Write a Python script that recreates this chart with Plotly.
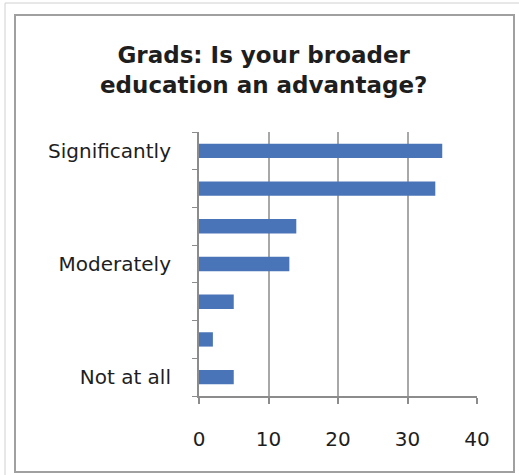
import plotly.graph_objects as go

categories = [7, 6, 5, 4, 3, 2, 1]
values = [35, 34, 14, 13, 5, 2, 5]
tick_positions = [7, 4, 1]
tick_labels = ["Significantly", "Moderately", "Not at all"]
x_ticks = [0, 10, 20, 30, 40]

W, H = 519, 475
L, R, T, B = 199, 42, 132, 79
pw, ph = W - L - R, H - T - B

def px(x):
    return (x - L) / pw

def py(y):
    return (H - B - y) / ph

fig = go.Figure(go.Bar(
    x=values, y=categories, orientation="h",
    marker=dict(color="#4a74b8", line=dict(width=0)),
    width=0.38,
))

fig.update_layout(
    width=W, height=H,
    margin=dict(l=L, r=R, t=T, b=B),
    paper_bgcolor="white", plot_bgcolor="white",
    showlegend=False,
    font=dict(family="DejaVu Sans", color="#1e1e1e"),
    annotations=[dict(
        text="<b>Grads: Is your broader<br>education an advantage?</b>",
        xref="paper", yref="paper", x=px(263), y=py(70),
        xanchor="center", yanchor="middle", showarrow=False,
        font=dict(size=23, family="DejaVu Sans", color="#1e1e1e"),
    )],
    shapes=[
        dict(type="rect", xref="paper", yref="paper",
             x0=px(15), x1=px(514), y0=py(472), y1=py(15),
             line=dict(color="#a0a0a0", width=2), layer="below"),
        dict(type="line", xref="paper", yref="paper",
             x0=px(5), x1=px(519), y0=py(3), y1=py(3),
             line=dict(color="#d0d0d0", width=1)),
        dict(type="line", xref="paper", yref="paper",
             x0=px(5), x1=px(5), y0=py(3), y1=py(475),
             line=dict(color="#d0d0d0", width=1)),
    ],
)

fig.update_xaxes(
    range=[0, 40], tickvals=x_ticks, ticks="outside", ticklen=6,
    tickcolor="#8c8c8c", tickwidth=2,
    showgrid=True, gridcolor="#a8a8a8", gridwidth=2,
    showline=True, linecolor="#8c8c8c", linewidth=2,
    zeroline=False, ticklabelstandoff=18,
    tickfont=dict(size=20, color="#1e1e1e"),
)

fig.update_yaxes(
    range=[0.5, 7.5], tickvals=tick_positions, ticktext=tick_labels,
    ticks="", showgrid=False,
    showline=True, linecolor="#8c8c8c", linewidth=2,
    zeroline=False, ticklabelstandoff=22,
    minor=dict(tickvals=[0.5 + i for i in range(8)], ticks="outside",
               ticklen=5, tickcolor="#8c8c8c", tickwidth=1, showgrid=False),
    tickfont=dict(size=20, color="#1e1e1e"),
)

fig.write_html("out.html", config={"displayModeBar": False},
               post_script="document.body.style.margin='0';")
